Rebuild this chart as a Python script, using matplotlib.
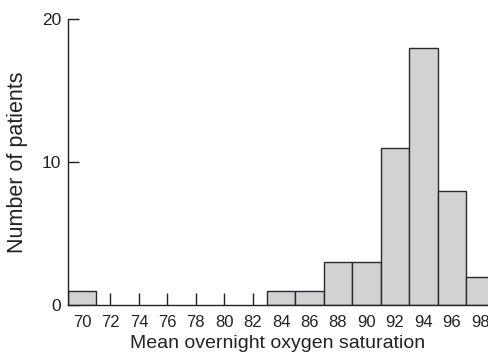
import matplotlib
matplotlib.use('Agg')
import matplotlib.pyplot as plt

# bin centres (oxygen saturation, %) and counts
centres = [70, 84, 86, 88, 90, 92, 94, 96, 98]
counts = [1, 1, 1, 3, 3, 11, 18, 8, 2]
xticks = list(range(70, 100, 2))
yticks = [0, 10, 20]

plt.rcParams['font.family'] = ['Liberation Sans', 'DejaVu Sans']

fig = plt.figure(figsize=(4.88, 3.54), dpi=100)
ax = fig.add_axes([0.139, 0.138, 0.861, 0.807])

ax.bar(centres, counts, width=2, color='#d1d2d4', edgecolor='#2a2a2a', linewidth=1.0)
ax.set_axisbelow(True)

ax.set_xlim(69, 98.55)
ax.set_ylim(0, 20)
ax.set_xticks(xticks)
ax.set_yticks(yticks)
ax.tick_params(axis='x', direction='in', length=9, width=1, labelsize=12, pad=7, colors='#222222')
ax.tick_params(axis='y', direction='in', length=8, width=1, labelsize=12.5, pad=5, colors='#222222')

for s in ['top', 'right']:
    ax.spines[s].set_visible(False)
for s in ['left', 'bottom']:
    ax.spines[s].set_linewidth(1)
    ax.spines[s].set_color('#222222')

ax.set_xlabel('Mean overnight oxygen saturation', fontsize=14, color='#222222', labelpad=4)
ax.set_ylabel('Number of patients', fontsize=15.5, color='#222222', labelpad=10)

fig.savefig('out.png', dpi=100)
